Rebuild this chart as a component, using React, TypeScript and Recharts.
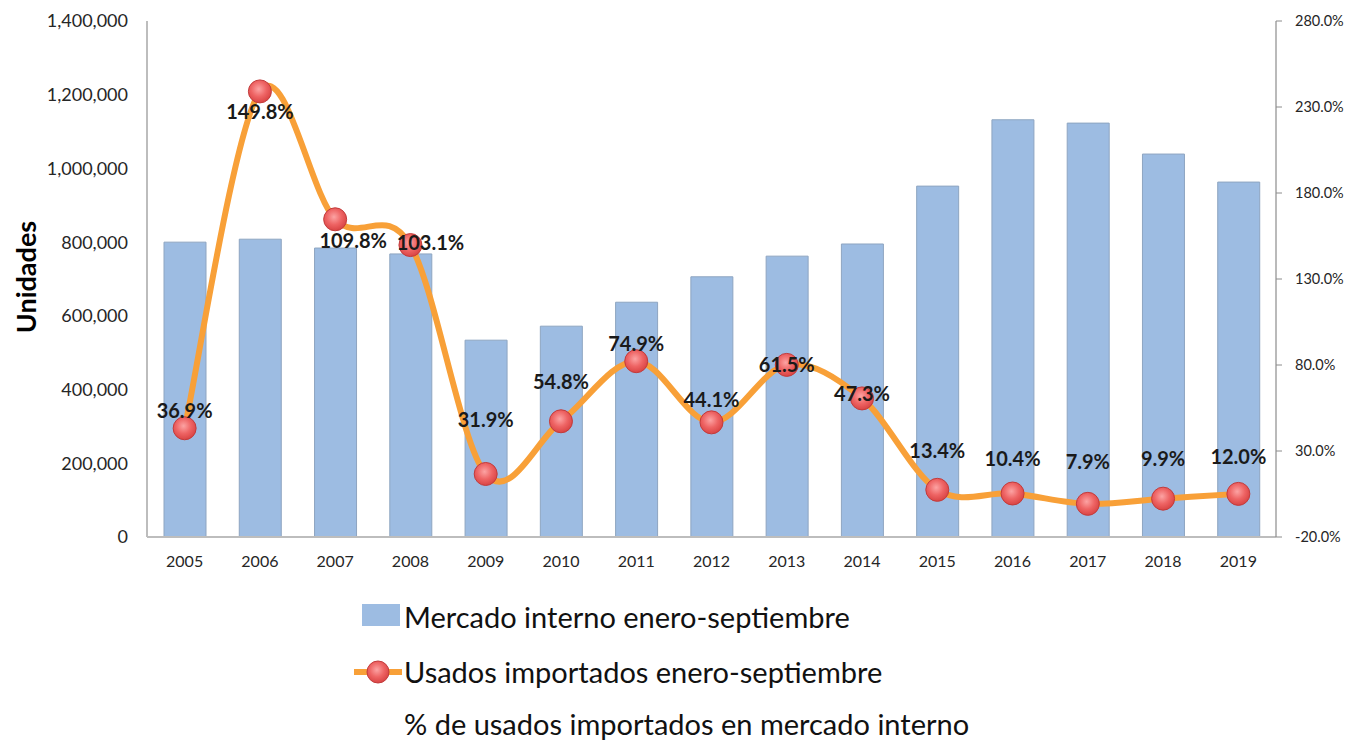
import React from 'react';
import { ComposedChart, Bar, Line, XAxis, YAxis, LabelList } from 'recharts';

const years = ['2005', '2006', '2007', '2008', '2009', '2010', '2011', '2012', '2013', '2014', '2015', '2016', '2017', '2018', '2019'];
const mercadoInterno = [800000, 808000, 784000, 768000, 534000, 572000, 637000, 706000, 762000, 795000, 952000, 1132000, 1123000, 1039000, 963000];
const usadosImportados = [295000, 1209000, 862000, 792000, 171000, 314000, 477000, 311000, 467000, 376000, 128000, 118000, 90000, 104000, 117000];
const pctUsados = [36.9, 149.8, 109.8, 103.1, 31.9, 54.8, 74.9, 44.1, 61.5, 47.3, 13.4, 10.4, 7.9, 9.9, 12.0];
const leftTicks = [0, 200000, 400000, 600000, 800000, 1000000, 1200000, 1400000];
const rightTicks = [-20, 30, 80, 130, 180, 230, 280];

const seriesNames = {
  bar: 'Mercado interno enero-septiembre',
  line: 'Usados importados enero-septiembre',
  pct: '% de usados importados en mercado interno',
};

const data = years.map((year, i) => ({
  year,
  mercado: mercadoInterno[i],
  usados: usadosImportados[i],
  pct: pctUsados[i],
}));

// label placement relative to each point (style only)
const labelShift: Record<string, [number, number]> = {
  '2005': [0, -18], '2006': [0, 20], '2007': [18, 21], '2008': [20, -3],
  '2009': [0, -55], '2010': [0, -40], '2011': [0, -18], '2012': [0, -23],
  '2013': [0, -1], '2014': [0, -5], '2015': [0, -40], '2016': [0, -36],
  '2017': [0, -43], '2018': [0, -41], '2019': [0, -38],
};

const FONT = "Lato, 'Open Sans', sans-serif";
const BAR_COLOR = '#9DBCE2';
const LINE_COLOR = '#F8A038';

function excelSmooth(context: any) {
  let pts: number[][] = [];
  return {
    areaStart() {},
    areaEnd() {},
    lineStart() { pts = []; },
    point(x: number, y: number) { pts.push([+x, +y]); },
    lineEnd() {
      const n = pts.length;
      if (!n) return;
      context.moveTo(pts[0][0], pts[0][1]);
      const t = 1 / 6;
      for (let i = 0; i < n - 1; i++) {
        const p0 = pts[i - 1] || pts[i];
        const p1 = pts[i];
        const p2 = pts[i + 1];
        const p3 = pts[i + 2] || p2;
        context.bezierCurveTo(
          p1[0] + (p2[0] - p0[0]) * t, p1[1] + (p2[1] - p0[1]) * t,
          p2[0] - (p3[0] - p1[0]) * t, p2[1] - (p3[1] - p1[1]) * t,
          p2[0], p2[1]
        );
      }
    },
  };
}

const RedDot = (props: any) => {
  const { cx, cy, index } = props;
  if (cx == null || cy == null) return <g key={`d${index}`} />;
  return <circle key={`d${index}`} cx={cx} cy={cy} r={11.5} fill="url(#dotGrad)" stroke="#c23b3b" strokeWidth={1} />;
};

const PctLabel = (props: any) => {
  const { x, y, index } = props;
  const year = years[index];
  const [dx, dy] = labelShift[year] || [0, -20];
  return (
    <text x={x + dx} y={y + dy} textAnchor="middle" dominantBaseline="central"
      fontFamily={FONT} fontWeight={700} fontSize={20} fill="#1a1a1a">
      {pctUsados[index].toFixed(1) + '%'}
    </text>
  );
};

export default function App() {
  return (
    <div style={{ position: 'absolute', left: 0, top: 0, width: 1356, height: 742, background: '#fff', fontFamily: FONT }}>
      <ComposedChart width={1356} height={600} data={data} margin={{ top: 21, right: 0, left: 0, bottom: 0 }}>
        <defs>
          <radialGradient id="dotGrad" cx="45%" cy="40%" r="60%">
            <stop offset="0%" stopColor="#fca3a3" />
            <stop offset="55%" stopColor="#ee6464" />
            <stop offset="100%" stopColor="#d94444" />
          </radialGradient>
        </defs>
        <XAxis dataKey="year" axisLine={{ stroke: '#bdbdbd', strokeWidth: 2 }} tickLine={false}
          tickSize={6} tickMargin={13} height={63}
          tick={{ fontSize: 16, fill: '#262626', fontFamily: FONT }} />
        <YAxis yAxisId="left" domain={[0, 1400000]} ticks={leftTicks} interval={0}
          tickFormatter={(v: number) => v.toLocaleString('en-US')}
          axisLine={{ stroke: '#bdbdbd', strokeWidth: 2 }} tickLine={false} tickSize={6} tickMargin={13} width={147}
          tick={{ fontSize: 18, fill: '#262626', fontFamily: FONT }}
          label={{
            content: () => (
              <text x={25} y={277} transform="rotate(-90, 25, 277)" textAnchor="middle" dominantBaseline="central"
                fontFamily={FONT} fontWeight={700} fontSize={27} fill="#000">Unidades</text>
            ),
          }} />
        <YAxis yAxisId="right" orientation="right" domain={[-20, 280]} ticks={rightTicks} interval={0}
          tickFormatter={(v: number) => v.toFixed(1) + '%'}
          axisLine={{ stroke: '#8c8c8c', strokeWidth: 1.2 }} tickLine={{ stroke: '#8c8c8c' }} tickSize={6} tickMargin={13} width={80}
          tick={{ fontSize: 14.5, fill: '#262626', fontFamily: FONT }} />
        <Bar yAxisId="left" dataKey="mercado" name={seriesNames.bar} fill={BAR_COLOR} stroke="#8ea5c1" strokeWidth={1}
          barSize={42} isAnimationActive={false} />
        <Line yAxisId="right" dataKey="pct" name={seriesNames.pct} stroke="none" dot={false} activeDot={false}
          legendType="none" isAnimationActive={false} />
        <Line yAxisId="left" dataKey="usados" name={seriesNames.line} type={excelSmooth as any} stroke={LINE_COLOR}
          strokeWidth={6} dot={RedDot} activeDot={false} isAnimationActive={false}>
          <LabelList dataKey="pct" content={PctLabel} />
        </Line>
      </ComposedChart>
      <div style={{ position: 'absolute', left: 0, top: 0, width: 1356, height: 742, pointerEvents: 'none' }}>
        <div style={{ position: 'absolute', left: 362, top: 604, width: 38, height: 22, background: BAR_COLOR }} />
        <div style={{ position: 'absolute', left: 404, top: 597, height: 40, lineHeight: '40px', fontSize: 29, color: '#111', whiteSpace: 'nowrap' }}>{seriesNames.bar}</div>
        <svg style={{ position: 'absolute', left: 350, top: 656 }} width={56} height={32}>
          <line x1={4} y1={16} x2={52} y2={16} stroke={LINE_COLOR} strokeWidth={6} />
          <circle cx={28} cy={16} r={11} fill="url(#dotGrad2)" stroke="#c23b3b" strokeWidth={1} />
          <defs>
            <radialGradient id="dotGrad2" cx="45%" cy="40%" r="60%">
              <stop offset="0%" stopColor="#fca3a3" />
              <stop offset="55%" stopColor="#ee6464" />
              <stop offset="100%" stopColor="#d94444" />
            </radialGradient>
          </defs>
        </svg>
        <div style={{ position: 'absolute', left: 404, top: 652, height: 40, lineHeight: '40px', fontSize: 29, color: '#111', whiteSpace: 'nowrap' }}>{seriesNames.line}</div>
        <div style={{ position: 'absolute', left: 404, top: 704, height: 40, lineHeight: '40px', fontSize: 29, color: '#111', whiteSpace: 'nowrap' }}>{seriesNames.pct}</div>
      </div>
    </div>
  );
}
